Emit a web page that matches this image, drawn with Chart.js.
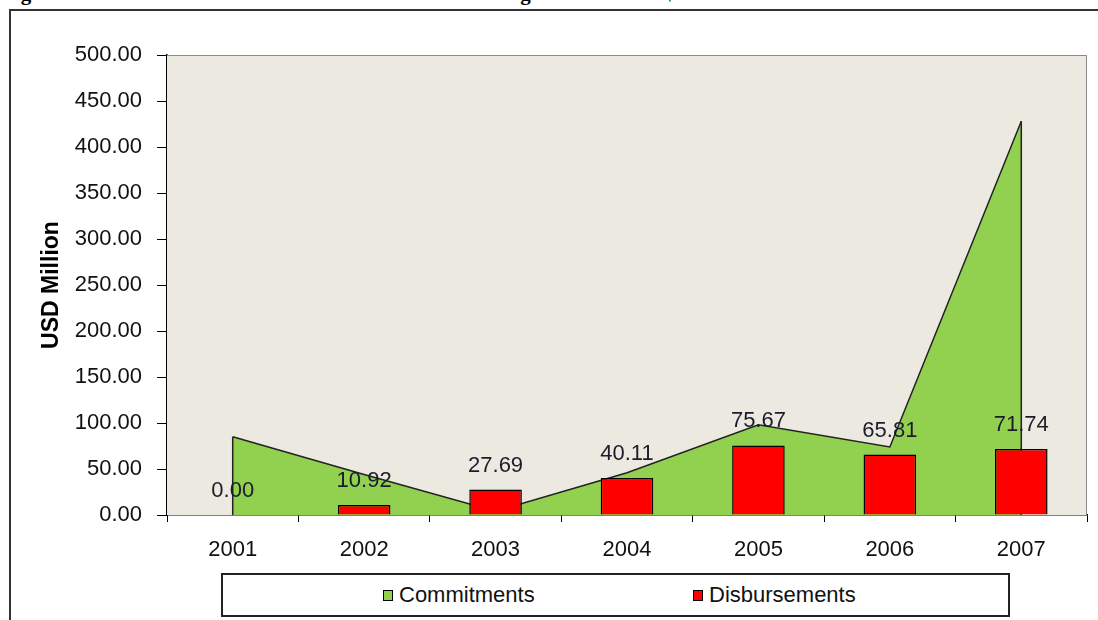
<!DOCTYPE html>
<html>
<head>
<meta charset="utf-8">
<script src="https://cdn.jsdelivr.net/npm/chart.js@4.4.1/dist/chart.umd.min.js"></script>
<style>
  body { margin: 0; background: #fff; width: 1098px; height: 620px; overflow: hidden; position: relative; font-family: "Liberation Sans", Arial, sans-serif; }
  #title { position: absolute; left: 2px; top: -19px; white-space: nowrap; font: bold 21px "Liberation Serif", serif; color: #000; }
  #frame { position: absolute; left: 9px; top: 9px; width: 1200px; height: 700px; border: 2px solid #333; background: transparent; }
  #wrap { position: absolute; left: 0; top: 0; width: 1098px; height: 620px; }
  #legend { position: absolute; left: 221px; top: 573px; width: 785px; height: 40px; border: 2px solid #222; background: #fff; }
  #legend .item { position: absolute; top: 9px; font-size: 22px; color: #111; line-height: 22px; white-space: nowrap; }
  #legend .box { display: inline-block; width: 8px; height: 9px; border: 1px solid #000; margin-right: 6px; vertical-align: 1px; }
</style>
</head>
<body>
<div id="title">Figure 3: Commitments and Disbursements of US aid to agriculture in US$ million</div>
<div id="frame"></div>
<div id="wrap"><canvas id="chart" width="1098" height="620"></canvas></div>
<div id="legend"></div>
<script>
const years = ['2001', '2002', '2003', '2004', '2005', '2006', '2007'];
const commitments = [85, 44, 4, 46, 98, 74, 428];
const disbursements = [0.00, 10.92, 27.69, 40.11, 75.67, 65.81, 71.74];
const seriesNames = ['Commitments', 'Disbursements'];
const seriesColors = ['#92D050', '#FF0000'];
const yMax = 500;
const yStep = 50;

Chart.defaults.font.family = '"Liberation Sans", Arial, sans-serif';

// plot background with the grey frame on top and right
const plotBg = {
    id: 'plotBg',
    beforeDatasetsDraw(chart) {
        const { ctx, chartArea: a } = chart;
        ctx.save();
        ctx.fillStyle = '#ECE9E0';
        ctx.fillRect(a.left, a.top, a.right - a.left, a.bottom - a.top);
        ctx.strokeStyle = '#8a8a8a';
        ctx.lineWidth = 1;
        ctx.beginPath();
        ctx.moveTo(a.left, a.top + 0.5);
        ctx.lineTo(a.right - 0.5, a.top + 0.5);
        ctx.lineTo(a.right - 0.5, a.bottom);
        ctx.stroke();
        ctx.restore();
    }
};

// vertical edges of the area, like the excel area series
const areaEdges = {
    id: 'areaEdges',
    afterDatasetDraw(chart, args) {
        if (args.index !== 0) return;
        const pts = args.meta.data;
        const base = chart.scales.y.getPixelForValue(0);
        const ctx = chart.ctx;
        ctx.save();
        ctx.strokeStyle = '#222';
        ctx.lineWidth = 1.5;
        [pts[0], pts[pts.length - 1]].forEach(p => {
            ctx.beginPath();
            ctx.moveTo(p.x, p.y);
            ctx.lineTo(p.x, base);
            ctx.stroke();
        });
        ctx.restore();
    }
};

// value labels over the disbursement bars
const barLabels = {
    id: 'barLabels',
    afterDatasetsDraw(chart) {
        const meta = chart.getDatasetMeta(1);
        const ctx = chart.ctx;
        ctx.save();
        ctx.font = '22px "Liberation Sans", Arial, sans-serif';
        ctx.fillStyle = '#1c1c2c';
        ctx.textAlign = 'center';
        ctx.textBaseline = 'middle';
        meta.data.forEach((bar, i) => {
            ctx.fillText(disbursements[i].toFixed(2), bar.x, bar.y - 24);
        });
        ctx.restore();
    }
};

const chart = new Chart(document.getElementById('chart'), {
    data: {
        labels: years,
        datasets: [
            {
                type: 'line',
                label: seriesNames[0],
                data: commitments,
                borderColor: '#222',
                borderWidth: 1.5,
                backgroundColor: seriesColors[0],
                fill: 'origin',
                pointRadius: 0,
                tension: 0,
                order: 2
            },
            {
                type: 'bar',
                label: seriesNames[1],
                data: disbursements,
                backgroundColor: seriesColors[1],
                borderColor: '#000',
                borderWidth: 1.5,
                categoryPercentage: 0.5,
                barPercentage: 0.8,
                order: 1
            }
        ]
    },
    options: {
        responsive: false,
        animation: false,
        layout: { padding: { top: 55, right: 11, bottom: 63, left: 0 } },
        plugins: {
            legend: { display: false },
            tooltip: { enabled: false }
        },
        scales: {
            x: {
                offset: true,
                grid: { offset: true, drawOnChartArea: false, tickLength: 7, color: '#000', lineWidth: 1 },
                border: { color: '#000', width: 1.5 },
                ticks: { color: '#111', font: { size: 22 }, padding: 15, maxRotation: 0 },
                afterFit: s => { s.height = 42; }
            },
            y: {
                min: 0,
                max: yMax,
                grid: { drawOnChartArea: false, tickLength: 10, color: '#000', lineWidth: 1 },
                border: { color: '#000', width: 1.5 },
                ticks: {
                    stepSize: yStep,
                    color: '#111',
                    font: { size: 22 },
                    padding: 15,
                    callback: v => v.toFixed(2)
                },
                title: {
                    display: true,
                    text: 'USD Million',
                    color: '#000',
                    font: { size: 23, weight: 'bold' },
                    padding: { top: 38, bottom: 0 }
                },
                afterFit: s => { s.width = 167; }
            }
        }
    },
    plugins: [plotBg, areaEdges, barLabels]
});

// legend box, built from the chart's datasets
const legendLeft = [160, 470];
const legend = document.getElementById('legend');
chart.data.datasets.forEach((ds, i) => {
    const item = document.createElement('div');
    item.className = 'item';
    item.style.left = legendLeft[i] + 'px';
    item.innerHTML = '<span class="box" style="background:' + ds.backgroundColor + '"></span>' + ds.label;
    legend.appendChild(item);
});
</script>
</body>
</html>
